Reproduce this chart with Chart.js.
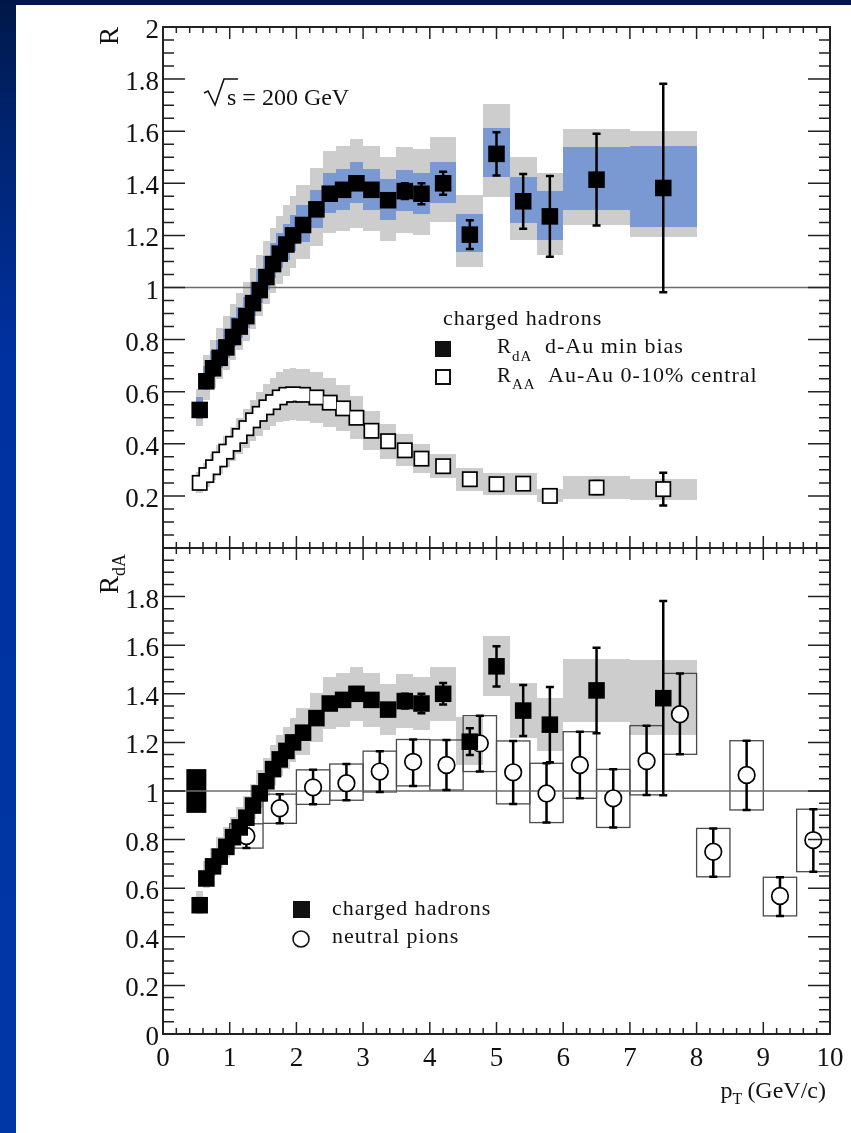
<!DOCTYPE html>
<html>
<head>
<meta charset="utf-8">
<title>Nuclear modification factors, charged hadrons and neutral pions</title>
<script src="https://cdn.jsdelivr.net/npm/chart.js@4.4.1/dist/chart.umd.min.js"></script>
<style>
  html, body { margin: 0; padding: 0; }
  body {
    width: 851px;
    height: 1133px;
    overflow: hidden;
    position: relative;
    background: linear-gradient(to bottom, #001848 0px, #00226a 110px, #0031a0 360px, #0037a6 1133px);
  }
  #sheet { position: absolute; left: 16px; top: 5px; right: 0; bottom: 0; background: #fff; }
  canvas { position: absolute; left: 0; top: 0; }
</style>
</head>
<body>
<div id="sheet"></div>
<canvas id="upper" width="851" height="1133"></canvas>
<canvas id="lower" width="851" height="1133"></canvas>
<script>
const SERIF = '"Liberation Serif", "Times New Roman", Times, serif';

// charged hadron pT bins (GeV/c), same binning for d-Au and Au-Au
const hadPt = [0.55, 0.65, 0.75, 0.85, 0.95, 1.05, 1.15, 1.25, 1.35, 1.45, 1.55, 1.65, 1.75, 1.85, 1.95,
               2.1, 2.3, 2.5, 2.7, 2.9, 3.125, 3.375, 3.625, 3.875, 4.2, 4.6, 5.0, 5.4, 5.8, 6.5, 7.5];
const hadLo = [0.5, 0.6, 0.7, 0.8, 0.9, 1.0, 1.1, 1.2, 1.3, 1.4, 1.5, 1.6, 1.7, 1.8, 1.9,
               2.0, 2.2, 2.4, 2.6, 2.8, 3.0, 3.25, 3.5, 3.75, 4.0, 4.4, 4.8, 5.2, 5.6, 6.0, 7.0];
const hadHi = [0.6, 0.7, 0.8, 0.9, 1.0, 1.1, 1.2, 1.3, 1.4, 1.5, 1.6, 1.7, 1.8, 1.9, 2.0,
               2.2, 2.4, 2.6, 2.8, 3.0, 3.25, 3.5, 3.75, 4.0, 4.4, 4.8, 5.2, 5.6, 6.0, 7.0, 8.0];

// d-Au min bias
const dauR      = [0.53, 0.64, 0.69, 0.73, 0.77, 0.81, 0.85, 0.89, 0.94, 0.99, 1.04, 1.09, 1.13, 1.165, 1.20,
                   1.24, 1.30, 1.36, 1.375, 1.40, 1.375, 1.335, 1.37, 1.36, 1.40, 1.203, 1.513, 1.331, 1.273, 1.414, 1.382];
const dauStat   = [0.01, 0.01, 0.01, 0.01, 0.01, 0.01, 0.01, 0.01, 0.01, 0.01, 0.01, 0.01, 0.01, 0.01, 0.01,
                   0.01, 0.01, 0.01, 0.01, 0.01, 0.015, 0.02, 0.03, 0.04, 0.044, 0.055, 0.083, 0.105, 0.155, 0.176, 0.40];
// systematic bands, upper and lower extent above/below the point
const dauInUp   = [0.05, 0.06, 0.065, 0.07, 0.07, 0.075, 0.075, 0.075, 0.08, 0.08, 0.08, 0.08, 0.08, 0.08, 0.08,
                   0.075, 0.075, 0.08, 0.08, 0.08, 0.08, 0.08, 0.08, 0.08, 0.083, 0.079, 0.10, 0.092, 0.096, 0.124, 0.163];
const dauInDn   = [0.035, 0.035, 0.035, 0.04, 0.04, 0.04, 0.045, 0.045, 0.05, 0.05, 0.05, 0.055, 0.055, 0.06, 0.06,
                   0.065, 0.07, 0.075, 0.077, 0.077, 0.077, 0.077, 0.077, 0.077, 0.077, 0.066, 0.09, 0.083, 0.089, 0.115, 0.151];
const dauOutUp  = [0.08, 0.10, 0.11, 0.115, 0.12, 0.125, 0.13, 0.13, 0.135, 0.135, 0.14, 0.14, 0.145, 0.15, 0.15,
                   0.155, 0.16, 0.165, 0.17, 0.17, 0.17, 0.165, 0.17, 0.17, 0.177, 0.153, 0.192, 0.17, 0.166, 0.196, 0.217];
const dauOutDn  = [0.06, 0.07, 0.075, 0.08, 0.085, 0.09, 0.09, 0.095, 0.10, 0.10, 0.105, 0.11, 0.115, 0.12, 0.125,
                   0.13, 0.14, 0.15, 0.16, 0.17, 0.16, 0.155, 0.16, 0.16, 0.15, 0.124, 0.166, 0.15, 0.147, 0.173, 0.189];
const dauLowUp  = [0.06, 0.07, 0.075, 0.08, 0.08, 0.085, 0.085, 0.09, 0.09, 0.095, 0.095, 0.10, 0.10, 0.10, 0.10,
                   0.10, 0.105, 0.108, 0.11, 0.11, 0.11, 0.106, 0.11, 0.109, 0.112, 0.103, 0.124, 0.112, 0.11, 0.13, 0.157];
const dauLowDn  = [0.035, 0.04, 0.04, 0.045, 0.045, 0.05, 0.05, 0.055, 0.055, 0.06, 0.06, 0.065, 0.07, 0.075, 0.08,
                   0.09, 0.1, 0.105, 0.11, 0.11, 0.11, 0.106, 0.11, 0.109, 0.11, 0.097, 0.124, 0.112, 0.11, 0.13, 0.152];

// Au-Au 0-10% central
const aaR    = [0.25, 0.28, 0.31, 0.34, 0.37, 0.40, 0.43, 0.46, 0.49, 0.515, 0.54, 0.56, 0.578, 0.588, 0.59,
                0.588, 0.578, 0.558, 0.536, 0.50, 0.45, 0.41, 0.375, 0.343, 0.314, 0.264, 0.245, 0.247, 0.20, 0.232, 0.226];
const aaStat = [0.005, 0.005, 0.005, 0.005, 0.005, 0.005, 0.005, 0.005, 0.005, 0.005, 0.005, 0.005, 0.005, 0.005, 0.005,
                0.005, 0.005, 0.005, 0.005, 0.005, 0.005, 0.005, 0.005, 0.005, 0.005, 0.008, 0.01, 0.012, 0.015, 0.025, 0.063];
const aaSys  = [0.04, 0.045, 0.05, 0.055, 0.06, 0.065, 0.07, 0.075, 0.08, 0.085, 0.088, 0.092, 0.096, 0.1, 0.1,
                0.1, 0.097, 0.093, 0.088, 0.082, 0.074, 0.067, 0.061, 0.056, 0.047, 0.045, 0.042, 0.042, 0.025, 0.045, 0.04];

// neutral pions (error bar and box share the same extent)
const pi0Pt = [1.25, 1.75, 2.25, 2.75, 3.25, 3.75, 4.25, 4.75, 5.25, 5.75, 6.25, 6.75, 7.25, 7.75, 8.25, 8.75, 9.25, 9.75];
const pi0R  = [0.815, 0.929, 1.015, 1.032, 1.08, 1.12, 1.107, 1.196, 1.077, 0.99, 1.107, 0.97, 1.123, 1.316, 0.75, 1.066, 0.568, 0.798];
const pi0Lo = [0.765, 0.867, 0.945, 0.962, 0.996, 1.021, 1.004, 1.08, 0.947, 0.87, 0.97, 0.85, 0.984, 1.151, 0.647, 0.922, 0.486, 0.668];
const pi0Hi = [0.865, 0.987, 1.087, 1.111, 1.164, 1.212, 1.21, 1.31, 1.206, 1.114, 1.244, 1.089, 1.269, 1.484, 0.846, 1.207, 0.645, 0.925];
const pi0HalfBin = 0.25;

// normalisation uncertainty box
const normPt = [0.35, 0.65];
const normR  = [0.91, 1.09];

// axis ticks
const xTicks      = [0, 1, 2, 3, 4, 5, 6, 7, 8, 9, 10];
const upperYTicks = [0.2, 0.4, 0.6, 0.8, 1, 1.2, 1.4, 1.6, 1.8, 2];
const upperYText  = ['0.2', '0.4', '0.6', '0.8', '1', '1.2', '1.4', '1.6', '1.8', '2'];
const lowerYTicks = [0, 0.2, 0.4, 0.6, 0.8, 1, 1.2, 1.4, 1.6, 1.8];
const lowerYText  = ['0', '0.2', '0.4', '0.6', '0.8', '1', '1.2', '1.4', '1.6', '1.8'];


const xp = (chart, v) => chart.scales.x.getPixelForValue(v);
const yp = (chart, v) => chart.scales.y.getPixelForValue(v);

function band(chart, centre, up, down, color) {
    const ctx = chart.ctx;
    ctx.save();
    ctx.fillStyle = color;
    centre.forEach((c, i) => {
        const x0 = Math.round(xp(chart, hadLo[i])), x1 = Math.round(xp(chart, hadHi[i]));
        const y0 = Math.round(yp(chart, c + up[i])), y1 = Math.round(yp(chart, c - down[i]));
        ctx.fillRect(x0, y0, x1 - x0, y1 - y0);
    });
    ctx.restore();
}

function errorBars(chart, xs, lows, highs) {
    const ctx = chart.ctx;
    ctx.save();
    ctx.strokeStyle = '#000';
    ctx.lineWidth = 2.5;
    xs.forEach((x, i) => {
        const px = xp(chart, x), y0 = yp(chart, lows[i]), y1 = yp(chart, highs[i]);
        ctx.beginPath();
        ctx.moveTo(px, y0); ctx.lineTo(px, y1);
        ctx.moveTo(px - 4, y0); ctx.lineTo(px + 4, y0);
        ctx.moveTo(px - 4, y1); ctx.lineTo(px + 4, y1);
        ctx.stroke();
    });
    ctx.restore();
}

function unityLine(chart) {
    const ctx = chart.ctx, a = chart.chartArea, y = yp(chart, 1);
    ctx.save();
    ctx.strokeStyle = '#6c6c6c';
    ctx.lineWidth = 1.5;
    ctx.beginPath();
    ctx.moveTo(a.left, y); ctx.lineTo(a.right, y);
    ctx.stroke();
    ctx.restore();
}

// frame with inward ticks on all four sides, plus y labels
function frame(chart, yTicks, yText) {
    const ctx = chart.ctx, a = chart.chartArea;
    ctx.save();
    ctx.strokeStyle = '#222';
    ctx.lineWidth = 1.5;
    ctx.beginPath();
    for (let i = 0; i <= 50; i++) {
        const x = xp(chart, i * 0.2);
        const len = i % 5 === 0 ? 12 : 6;
        ctx.moveTo(x, a.top); ctx.lineTo(x, a.top + len);
        ctx.moveTo(x, a.bottom); ctx.lineTo(x, a.bottom - len);
    }
    for (let j = 0; j <= 40; j++) {
        const y = yp(chart, j * 0.05);
        const len = j % 4 === 0 ? 22 : 11;
        ctx.moveTo(a.left, y); ctx.lineTo(a.left + len, y);
        ctx.moveTo(a.right, y); ctx.lineTo(a.right - len, y);
    }
    ctx.stroke();
    ctx.lineWidth = 2;
    ctx.strokeRect(a.left, a.top, a.right - a.left, a.bottom - a.top);

    ctx.fillStyle = '#111';
    ctx.font = '27px ' + SERIF;
    ctx.textAlign = 'right';
    yTicks.forEach((v, i) => ctx.fillText(yText[i], a.left - 4, yp(chart, v) + 11));
    ctx.restore();
}

function subText(ctx, x, y, main, sub, size, subSize, drop) {
    ctx.font = size + 'px ' + SERIF;
    ctx.fillText(main, x, y);
    const w = ctx.measureText(main).width;
    ctx.font = subSize + 'px ' + SERIF;
    ctx.fillText(sub, x + w, y + drop);
    return x + w + ctx.measureText(sub).width;
}

const upperPlugin = {
    id: 'upperPanel',
    beforeDatasetsDraw(chart) {
        band(chart, dauR, dauOutUp, dauOutDn, '#cdcdcd');
        band(chart, dauR, dauInUp, dauInDn, '#7a98d2');
        band(chart, aaR, aaSys, aaSys, '#cdcdcd');
        unityLine(chart);
        errorBars(chart, hadPt, dauR.map((r, i) => r - dauStat[i]), dauR.map((r, i) => r + dauStat[i]));
        errorBars(chart, hadPt, aaR.map((r, i) => r - aaStat[i]), aaR.map((r, i) => r + aaStat[i]));
    },
    afterDraw(chart) {
        const ctx = chart.ctx, a = chart.chartArea;
        frame(chart, upperYTicks, upperYText);
        ctx.save();
        ctx.fillStyle = '#111';

        // axis title
        ctx.save();
        ctx.translate(118, a.top);
        ctx.rotate(-Math.PI / 2);
        ctx.textAlign = 'right';
        ctx.font = '27px ' + SERIF;
        ctx.fillText('R', 0, 0);
        ctx.restore();

        // sqrt(s) label
        ctx.strokeStyle = '#111';
        ctx.lineWidth = 1.6;
        ctx.beginPath();
        ctx.moveTo(204, 93); ctx.lineTo(208, 91); ctx.lineTo(215, 105);
        ctx.lineTo(224, 79); ctx.lineTo(238, 79);
        ctx.stroke();
        ctx.font = '24px ' + SERIF;
        ctx.fillText('s = 200 GeV', 227, 105);

        // legend
        ctx.letterSpacing = '1px';
        ctx.font = '22px ' + SERIF;
        ctx.fillText('charged hadrons', 443, 325);
        ctx.fillRect(435, 341, 16, 16);
        ctx.fillRect(435, 369, 16, 16);
        ctx.fillStyle = '#fff';
        ctx.fillRect(437, 371, 12, 12);
        ctx.fillStyle = '#111';
        subText(ctx, 497, 353, 'R', 'dA', 21, 15, 8);
        ctx.font = '22px ' + SERIF;
        ctx.fillText('d-Au min bias', 545, 353);
        subText(ctx, 497, 382, 'R', 'AA', 21, 15, 7);
        ctx.font = '22px ' + SERIF;
        ctx.fillText('Au-Au 0-10% central', 548, 382);
        ctx.restore();
    }
};

const lowerPlugin = {
    id: 'lowerPanel',
    beforeDatasetsDraw(chart) {
        const ctx = chart.ctx;
        band(chart, dauR, dauLowUp, dauLowDn, '#cdcdcd');

        ctx.save();
        ctx.strokeStyle = '#4a4a4a';
        ctx.lineWidth = 1.3;
        pi0Pt.forEach((x, i) => {
            const x0 = xp(chart, x - pi0HalfBin), x1 = xp(chart, x + pi0HalfBin);
            const y0 = yp(chart, pi0Hi[i]), y1 = yp(chart, pi0Lo[i]);
            ctx.strokeRect(x0, y0, x1 - x0, y1 - y0);
        });
        ctx.fillStyle = '#000';
        const nx0 = xp(chart, normPt[0]), nx1 = xp(chart, normPt[1]);
        const ny0 = yp(chart, normR[1]), ny1 = yp(chart, normR[0]);
        ctx.fillRect(nx0, ny0, nx1 - nx0, ny1 - ny0);
        ctx.restore();

        unityLine(chart);
        errorBars(chart, pi0Pt, pi0Lo, pi0Hi);
        errorBars(chart, hadPt, dauR.map((r, i) => r - dauStat[i]), dauR.map((r, i) => r + dauStat[i]));
    },
    afterDraw(chart) {
        const ctx = chart.ctx, a = chart.chartArea;
        frame(chart, lowerYTicks, lowerYText);
        ctx.save();
        ctx.fillStyle = '#111';

        // x tick labels
        ctx.font = '27px ' + SERIF;
        ctx.textAlign = 'center';
        xTicks.forEach(v => ctx.fillText(String(v), xp(chart, v), a.bottom + 32));

        // x title, right aligned to the frame
        ctx.textAlign = 'left';
        ctx.font = '24px ' + SERIF;
        const wRest = ctx.measureText('(GeV/c)').width;
        const wP = ctx.measureText('p').width;
        ctx.font = '16px ' + SERIF;
        const wT = ctx.measureText('T').width;
        let x = 826 - wRest - wT - wP - 5;
        x = subText(ctx, x, 1098, 'p', 'T', 24, 16, 6);
        ctx.font = '24px ' + SERIF;
        ctx.fillText('(GeV/c)', x + 5, 1098);

        // y title
        ctx.save();
        ctx.translate(118, a.top + 6);
        ctx.rotate(-Math.PI / 2);
        ctx.font = '27px ' + SERIF;
        const wR = ctx.measureText('R').width;
        ctx.font = '18px ' + SERIF;
        const wSub = ctx.measureText('dA').width;
        subText(ctx, -(wR + wSub), 0, 'R', 'dA', 27, 18, 7);
        ctx.restore();

        // legend
        ctx.letterSpacing = '1px';
        ctx.font = '22px ' + SERIF;
        ctx.fillRect(293, 901, 17, 17);
        ctx.fillText('charged hadrons', 332, 915);
        ctx.beginPath();
        ctx.arc(301, 939, 8, 0, Math.PI * 2);
        ctx.fillStyle = '#fff';
        ctx.fill();
        ctx.strokeStyle = '#111';
        ctx.lineWidth = 1.6;
        ctx.stroke();
        ctx.fillStyle = '#111';
        ctx.fillText('neutral pions', 332, 943);
        ctx.restore();
    }
};

function makeChart(id, padding, datasets, plugin) {
    return new Chart(document.getElementById(id), {
        type: 'scatter',
        data: { datasets },
        options: {
            responsive: false,
            animation: false,
            events: [],
            layout: { padding },
            scales: {
                x: { type: 'linear', min: 0, max: 10, display: false },
                y: { type: 'linear', min: 0, max: 2, display: false }
            },
            plugins: { legend: { display: false }, tooltip: { enabled: false } }
        },
        plugins: [plugin]
    });
}

const dauPoints = hadPt.map((x, i) => ({ x, y: dauR[i] }));
const aaPoints  = hadPt.map((x, i) => ({ x, y: aaR[i] }));
const pi0Points = pi0Pt.map((x, i) => ({ x, y: pi0R[i] }));

// open squares: a black layer with a smaller white layer on top, so that
// overlapping markers only keep their common outline
makeChart('upper', { left: 163, right: 21, top: 27, bottom: 585 }, [
    { label: 'R_dA d-Au min bias', data: dauPoints, pointStyle: 'rect', pointRadius: 11.7,
      backgroundColor: '#000', borderWidth: 0, order: 0 },
    { label: 'R_AA Au-Au 0-10% central', data: aaPoints, pointStyle: 'rect', pointRadius: 8.9,
      backgroundColor: '#fff', borderWidth: 0, order: 1 },
    { label: 'R_AA outline', data: aaPoints, pointStyle: 'rect', pointRadius: 11.3,
      backgroundColor: '#000', borderWidth: 0, order: 2 }
], upperPlugin);

makeChart('lower', { left: 163, right: 21, top: 548, bottom: 99 }, [
    { label: 'charged hadrons', data: dauPoints, pointStyle: 'rect', pointRadius: 11.7,
      backgroundColor: '#000', borderWidth: 0, order: 0 },
    { label: 'neutral pions', data: pi0Points, pointStyle: 'circle', pointRadius: 8.3,
      backgroundColor: '#fff', borderColor: '#000', borderWidth: 1.7, order: 1 }
], lowerPlugin);
</script>
</body>
</html>
